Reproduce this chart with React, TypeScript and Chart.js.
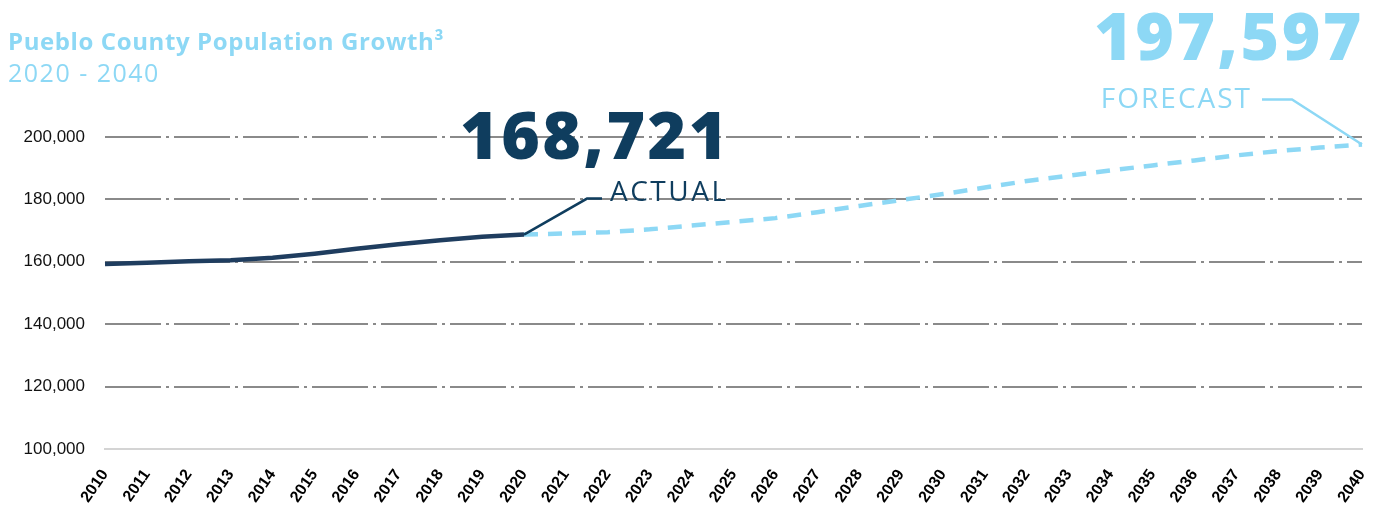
import React, { useEffect, useRef } from "react";
import { Chart, registerables } from "chart.js";
Chart.register(...registerables);

const YEARS = [
  "2010", "2011", "2012", "2013", "2014", "2015", "2016", "2017", "2018", "2019", "2020",
  "2021", "2022", "2023", "2024", "2025", "2026", "2027", "2028", "2029", "2030",
  "2031", "2032", "2033", "2034", "2035", "2036", "2037", "2038", "2039", "2040",
];
const ACTUAL = [159300, 159700, 160200, 160500, 161300, 162600, 164200, 165600, 166900, 168000, 168721];
const FORECAST = [
  168721, 169100, 169500, 170400, 171600, 172800, 174000, 175900, 177900, 179800, 181700,
  183800, 185900, 187600, 189300, 190900, 192500, 194100, 195500, 196600, 197597,
];
const Y_MIN = 100000;
const Y_MAX = 200000;
const Y_STEP = 20000;

const TITLE = "Pueblo County Population Growth³";
const SUBTITLE = "2020 - 2040";
const ACTUAL_VALUE = "168,721";
const ACTUAL_TEXT = "ACTUAL";
const FORECAST_VALUE = "197,597";
const FORECAST_TEXT = "FORECAST";

const NAVY = "#0f3d5e";
const NAVY_LINE = "#1f3d5f";
const SKY = "#8dd8f5";

function spaced(ctx: any, px: number) {
  try {
    ctx.letterSpacing = px + "px";
  } catch (e) {}
}

const annotationPlugin = {
  id: "annot",
  afterDatasetsDraw(chart: any) {
    const ctx = chart.ctx as CanvasRenderingContext2D;
    const a = chart.getDatasetMeta(0).data[ACTUAL.length - 1];
    const f = chart.getDatasetMeta(1).data[YEARS.length - 1];
    ctx.save();
    // Title
    ctx.textBaseline = "alphabetic";
    ctx.textAlign = "left";
    ctx.fillStyle = SKY;
    ctx.font = "bold 24px 'Open Sans'";
    spaced(ctx, 0.6);
    ctx.fillText(TITLE, 8, 50);
    ctx.font = "normal 25px 'Open Sans'";
    spaced(ctx, 1.5);
    ctx.fillText(SUBTITLE, 8, 82);

    // Actual annotation
    ctx.strokeStyle = NAVY;
    ctx.lineWidth = 2.5;
    ctx.beginPath();
    ctx.moveTo(a.x, a.y);
    ctx.lineTo(a.x + 63, a.y - 36);
    ctx.lineTo(a.x + 78, a.y - 36);
    ctx.stroke();
    ctx.fillStyle = NAVY;
    ctx.font = "800 66px 'Open Sans'";
    spaced(ctx, 2.5);
    ctx.fillText(ACTUAL_VALUE, a.x - 64, a.y - 76);
    ctx.font = "normal 28px 'Open Sans'";
    spaced(ctx, 2.5);
    ctx.fillText(ACTUAL_TEXT, a.x + 86, a.y - 34);

    // Forecast annotation
    ctx.strokeStyle = SKY;
    ctx.beginPath();
    ctx.moveTo(f.x, f.y);
    ctx.lineTo(f.x - 70, f.y - 45);
    ctx.lineTo(f.x - 100, f.y - 45);
    ctx.stroke();
    ctx.fillStyle = SKY;
    ctx.textAlign = "right";
    ctx.font = "800 66px 'Open Sans'";
    spaced(ctx, 2.5);
    ctx.fillText(FORECAST_VALUE, f.x + 2, f.y - 84);
    ctx.font = "normal 28px 'Open Sans'";
    spaced(ctx, 2);
    ctx.fillText(FORECAST_TEXT, f.x - 110, f.y - 36);
    ctx.restore();
  },
};

export default function App() {
  const ref = useRef<HTMLCanvasElement>(null);
  useEffect(() => {
    if (!ref.current) return;
    const actualData = [...ACTUAL, ...Array(YEARS.length - ACTUAL.length).fill(null)];
    const forecastData = [...Array(YEARS.length - FORECAST.length).fill(null), ...FORECAST];
    const chart = new Chart(ref.current, {
      type: "line",
      data: {
        labels: YEARS,
        datasets: [
          {
            label: "Actual",
            data: actualData,
            borderColor: NAVY_LINE,
            borderWidth: 4.5,
            pointRadius: 0,
            tension: 0,
          },
          {
            label: "Forecast",
            data: forecastData,
            borderColor: SKY,
            borderWidth: 4.5,
            borderDash: [14, 10],
            pointRadius: 0,
            tension: 0,
          },
        ],
      },
      options: {
        animation: false,
        responsive: false,
        maintainAspectRatio: false,
        layout: { padding: { top: 137, right: 27, left: 0, bottom: 0 } },
        plugins: { legend: { display: false }, tooltip: { enabled: false } },
        scales: {
          x: {
            grid: { display: false },
            border: { display: true, color: "#d4d4d4", width: 2 },
            ticks: {
              autoSkip: false,
              minRotation: 55,
              maxRotation: 55,
              padding: 9,
              color: "#000",
              font: { family: "Liberation Sans", size: 16, weight: "bold" },
            },
            afterFit: (s: any) => {
              s.height = 58;
            },
          },
          y: {
            min: Y_MIN,
            max: Y_MAX,
            border: { display: false, dash: [56, 5, 3, 5] },
            grid: {
              drawTicks: false,
              lineWidth: 2,
              color: (c: any) => (c.tick && c.tick.value === Y_MIN ? "rgba(0,0,0,0)" : "#8a8a8a"),
            },
            ticks: {
              stepSize: Y_STEP,
              padding: 20,
              color: "#111",
              font: { family: "Liberation Sans", size: 17 },
              callback: (v: any) => Number(v).toLocaleString("en-US"),
            },
            afterFit: (s: any) => {
              s.width = 105;
            },
          },
        },
      },
      plugins: [annotationPlugin],
    });
    return () => chart.destroy();
  }, []);
  return (
    <div style={{ position: "absolute", left: 0, top: 0, width: 1389, height: 507, background: "#fff" }}>
      <canvas ref={ref} width={1389} height={507} style={{ display: "block" }} />
    </div>
  );
}
